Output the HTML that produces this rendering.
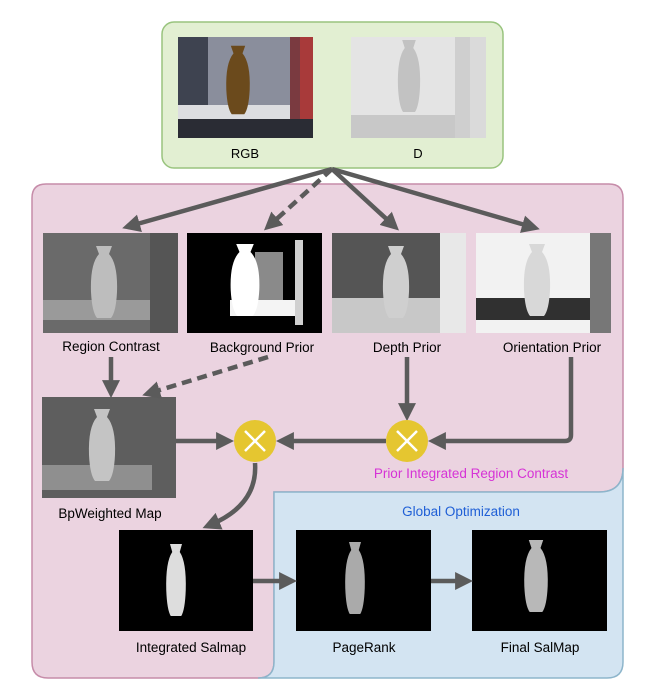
<!DOCTYPE html>
<html><head><meta charset="utf-8"><style>
html,body{margin:0;padding:0;background:#fff;}
svg{display:block;font-family:"Liberation Sans",Arial,sans-serif;}
</style></head><body>
<svg width="659" height="689" viewBox="0 0 659 689" xmlns="http://www.w3.org/2000/svg">
<defs>
<marker id="ah" markerWidth="4" markerHeight="4" refX="2.2" refY="2" orient="auto" markerUnits="strokeWidth">
<path d="M0,0 L4,2 L0,4 Z" fill="#5b5b5b"/></marker>
<g id="vaseL"><path d="M-8,-36 L8,-36 L5,-28 Q14,-18 13,10 Q12,30 7,36 L-7,36 Q-12,30 -13,10 Q-14,-18 -5,-28 Z"/></g>
</defs>
<!-- regions -->
<path d="M32,198 Q32,184 46,184 L609,184 Q623,184 623,198 L623,468 Q623,492 599,492 L274,492 L274,662 Q274,678 258,678 L48,678 Q32,678 32,662 Z" fill="#ebd3e0" stroke="#c68ca9" stroke-width="1.5"/>
<path d="M274,492 L599,492 Q623,492 623,468 L623,662 Q623,678 607,678 L258,678 Q274,678 274,662 Z" fill="#d3e4f2" stroke="#8db5cb" stroke-width="1.5"/>
<rect x="162" y="22" width="341" height="146" rx="12" fill="#e2efd2" stroke="#99c47e" stroke-width="1.5"/>

<!-- RGB image -->
<rect x="178" y="37" width="135" height="101" fill="#8a8e9c"/>
<rect x="178" y="37" width="30" height="101" fill="#3e4350"/>
<rect x="290" y="37" width="23" height="101" fill="#7a3a40"/>
<rect x="300" y="37" width="13" height="101" fill="#a83a3a"/>
<rect x="178" y="105" width="112" height="14" fill="#dcdde0"/>
<rect x="178" y="119" width="135" height="19" fill="#2a2c34"/>
<g fill="#6b4a1c" transform="translate(238,80)"><use href="#vaseL" transform="scale(0.9,0.95)"/></g>
<!-- D image -->
<rect x="351" y="37" width="135" height="101" fill="#e4e4e4"/>
<rect x="351" y="115" width="120" height="23" fill="#c8c8c8"/>
<rect x="455" y="37" width="31" height="101" fill="#cfcfcf"/>
<rect x="470" y="37" width="16" height="101" fill="#dadada"/>
<g fill="#c2c2c2" transform="translate(409,76)"><use href="#vaseL" transform="scale(0.85,1)"/></g>
<text x="245" y="158" font-size="13" text-anchor="middle">RGB</text>
<text x="418" y="158" font-size="13" text-anchor="middle">D</text>

<!-- row 1 images -->
<rect x="43" y="233" width="135" height="100" fill="#6a6a6a"/>
<rect x="43" y="300" width="110" height="20" fill="#9a9a9a"/>
<rect x="150" y="233" width="28" height="100" fill="#555"/>
<g fill="#bdbdbd" transform="translate(104,282)"><use href="#vaseL"/></g>

<rect x="187" y="233" width="135" height="100" fill="#000"/>
<rect x="255" y="252" width="28" height="48" fill="#8a8a8a"/>
<rect x="230" y="300" width="70" height="16" fill="#f4f4f4"/>
<rect x="295" y="240" width="8" height="85" fill="#d0d0d0"/>
<g fill="#fff" transform="translate(245,280)"><use href="#vaseL" transform="scale(1.1,1)"/></g>

<rect x="332" y="233" width="134" height="100" fill="#555"/>
<rect x="332" y="298" width="110" height="35" fill="#c8c8c8"/>
<rect x="440" y="233" width="26" height="100" fill="#e8e8e8"/>
<g fill="#cfcfcf" transform="translate(396,282)"><use href="#vaseL"/></g>

<rect x="476" y="233" width="135" height="100" fill="#f2f2f2"/>
<rect x="476" y="298" width="115" height="22" fill="#303030"/>
<rect x="590" y="233" width="21" height="100" fill="#777"/>
<g fill="#d8d8d8" transform="translate(537,280)"><use href="#vaseL"/></g>

<g font-size="13.5" text-anchor="middle" fill="#000">
<text x="111" y="351">Region Contrast</text>
<text x="262" y="352">Background Prior</text>
<text x="407" y="352">Depth Prior</text>
<text x="552" y="352">Orientation Prior</text>
</g>

<!-- BpWeighted -->
<rect x="42" y="397" width="134" height="101" fill="#5e5e5e"/>
<rect x="42" y="465" width="110" height="25" fill="#8f8f8f"/>
<g fill="#c4c4c4" transform="translate(102,445)"><use href="#vaseL"/></g>
<text x="110" y="518" font-size="13.5" text-anchor="middle">BpWeighted Map</text>

<!-- bottom images -->
<rect x="119" y="530" width="134" height="101" fill="#000"/>
<g fill="#ddd" transform="translate(176,580)"><use href="#vaseL" transform="scale(0.75,1)"/></g>
<rect x="296" y="530" width="135" height="101" fill="#000"/>
<g fill="#aaa" transform="translate(355,578)"><use href="#vaseL" transform="scale(0.75,1)"/></g>
<rect x="472" y="530" width="135" height="101" fill="#000"/>
<g fill="#b8b8b8" transform="translate(536,576)"><use href="#vaseL" transform="scale(0.9,1)"/></g>
<g font-size="13.5" text-anchor="middle">
<text x="191" y="652">Integrated Salmap</text>
<text x="364" y="652">PageRank</text>
<text x="540" y="652">Final SalMap</text>
</g>
<text x="461" y="516" font-size="13.5" text-anchor="middle" fill="#1f5fd6">Global Optimization</text>
<text x="471" y="478" font-size="13.5" text-anchor="middle" fill="#d633d6">Prior Integrated Region Contrast</text>

<!-- arrows -->
<g stroke="#5b5b5b" stroke-width="4.5" fill="none" marker-end="url(#ah)">
<line x1="332" y1="169" x2="130" y2="226"/>
<line x1="332" y1="169" x2="270" y2="225" stroke-dasharray="10,6"/>
<line x1="332" y1="169" x2="393" y2="225"/>
<line x1="332" y1="169" x2="532" y2="227"/>
<line x1="111" y1="357" x2="111" y2="390"/>
<line x1="268" y1="357" x2="150" y2="393" stroke-dasharray="10,6"/>
<line x1="407" y1="357" x2="407" y2="413"/>
<path d="M571,357 L571,435 Q571,441 565,441 L436,441"/>
<line x1="386" y1="441" x2="284" y2="441"/>
<line x1="176" y1="441" x2="226" y2="441"/>
<path d="M255,463 Q258,505 210,525"/>
<line x1="253" y1="581" x2="289" y2="581"/>
<line x1="431" y1="581" x2="465" y2="581"/>
</g>
<!-- circles -->
<g>
<ellipse cx="255" cy="441" rx="21" ry="21" fill="#e5c630"/>
<ellipse cx="407" cy="441" rx="21" ry="21" fill="#e5c630"/>
<g stroke="#fff" stroke-width="2.5">
<line x1="245" y1="431" x2="265" y2="451"/><line x1="265" y1="431" x2="245" y2="451"/>
<line x1="397" y1="431" x2="417" y2="451"/><line x1="417" y1="431" x2="397" y2="451"/>
</g>
</g>
</svg>
</body></html>
